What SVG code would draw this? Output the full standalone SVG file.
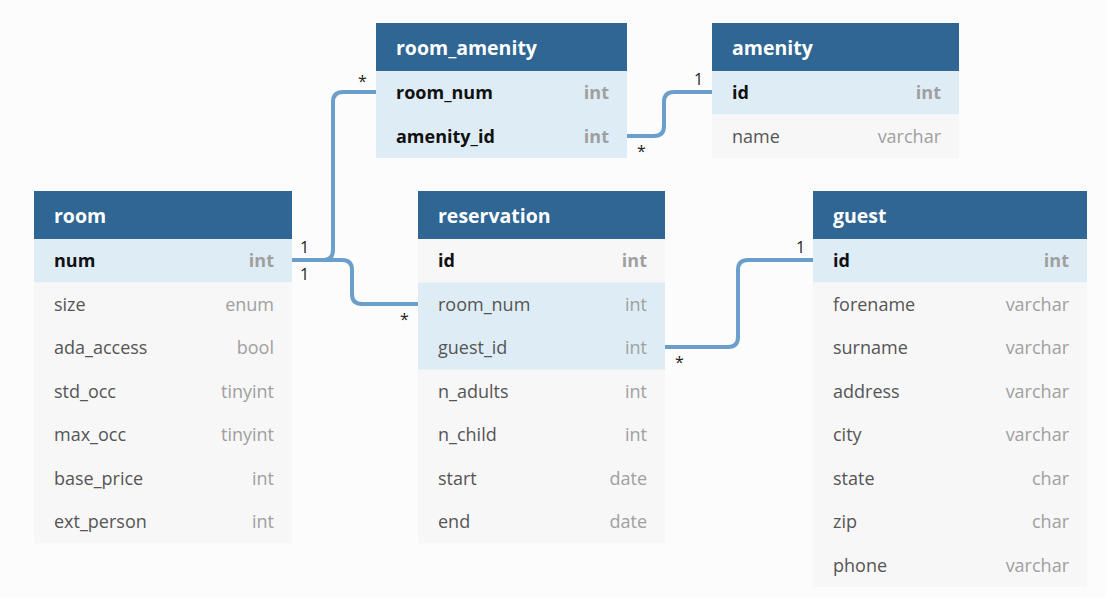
<svg xmlns="http://www.w3.org/2000/svg" width="1106" height="598" viewBox="0 0 1106 598">
<style>
.hd{fill:#2f6693}
.hl{fill:#deedf5}
.gr{fill:#f7f7f7}
.ht{font-family:"Open Sans","DejaVu Sans",sans-serif;font-size:19.5px;font-weight:bold;fill:#ffffff}
.fn{font-family:"Open Sans","DejaVu Sans",sans-serif;font-size:18px;fill:#555555}
.ft{font-family:"Open Sans","DejaVu Sans",sans-serif;font-size:18px;fill:#a0a0a0;text-anchor:end}
.k{font-weight:bold;fill:#111111}
.kt{font-weight:bold;fill:#a0a0a0}
.ln{fill:none;stroke:#6a9fcb;stroke-width:4}
.lb{font-family:"Open Sans","DejaVu Sans",sans-serif;font-size:16px;fill:#222222}
</style>
<rect width="1106" height="598" fill="#fcfcfc"/>
<g id="connectors">
<path class="ln" d="M292,260 H323 Q333,260 333,250 V102 Q333,92 343,92 H376"/>
<path class="ln" d="M292,260 H342 Q352,260 352,270 V294 Q352,304 362,304 H418"/>
<path class="ln" d="M627,136 H654 Q664,136 664,126 V102 Q664,92 674,92 H712"/>
<path class="ln" d="M665,347 H728 Q738,347 738,337 V270 Q738,260 748,260 H813"/>
<text class="lb" x="300" y="253">1</text>
<text class="lb" x="300" y="280">1</text>
<text class="lb" x="358" y="87">*</text>
<text class="lb" x="400" y="325">*</text>
<text class="lb" x="637" y="157">*</text>
<text class="lb" x="694" y="85">1</text>
<text class="lb" x="675" y="368">*</text>
<text class="lb" x="796" y="253">1</text>
</g>
<g id="room">
<rect class="hd" x="34" y="191" width="258" height="48"/>
<rect class="hl" x="34" y="239" width="258" height="43.5"/>
<rect class="gr" x="34" y="282.5" width="258" height="261"/>
<text class="ht" x="54" y="223">room</text>
<text class="fn k" x="54" y="267">num</text><text class="ft kt" x="274" y="267">int</text>
<text class="fn" x="54" y="311">size</text><text class="ft" x="274" y="311">enum</text>
<text class="fn" x="54" y="354">ada_access</text><text class="ft" x="274" y="354">bool</text>
<text class="fn" x="54" y="398">std_occ</text><text class="ft" x="274" y="398">tinyint</text>
<text class="fn" x="54" y="441">max_occ</text><text class="ft" x="274" y="441">tinyint</text>
<text class="fn" x="54" y="485">base_price</text><text class="ft" x="274" y="485">int</text>
<text class="fn" x="54" y="528">ext_person</text><text class="ft" x="274" y="528">int</text>
</g>
<g id="room_amenity">
<rect class="hd" x="376" y="23" width="251" height="48"/>
<rect class="hl" x="376" y="71" width="251" height="87"/>
<text class="ht" x="396" y="55">room_amenity</text>
<text class="fn k" x="396" y="99">room_num</text><text class="ft kt" x="609" y="99">int</text>
<text class="fn k" x="396" y="143">amenity_id</text><text class="ft kt" x="609" y="143">int</text>
</g>
<g id="amenity">
<rect class="hd" x="712" y="23" width="247" height="48"/>
<rect class="hl" x="712" y="71" width="247" height="43.5"/>
<rect class="gr" x="712" y="114.5" width="247" height="43.5"/>
<text class="ht" x="732" y="55">amenity</text>
<text class="fn k" x="732" y="99">id</text><text class="ft kt" x="941" y="99">int</text>
<text class="fn" x="732" y="143">name</text><text class="ft" x="941" y="143">varchar</text>
</g>
<g id="reservation">
<rect class="hd" x="418" y="191" width="247" height="48"/>
<rect class="gr" x="418" y="239" width="247" height="304.5"/>
<rect class="hl" x="418" y="282.5" width="247" height="87"/>
<text class="ht" x="438" y="223">reservation</text>
<text class="fn k" x="438" y="267">id</text><text class="ft kt" x="647" y="267">int</text>
<text class="fn" x="438" y="311">room_num</text><text class="ft" x="647" y="311">int</text>
<text class="fn" x="438" y="354">guest_id</text><text class="ft" x="647" y="354">int</text>
<text class="fn" x="438" y="398">n_adults</text><text class="ft" x="647" y="398">int</text>
<text class="fn" x="438" y="441">n_child</text><text class="ft" x="647" y="441">int</text>
<text class="fn" x="438" y="485">start</text><text class="ft" x="647" y="485">date</text>
<text class="fn" x="438" y="528">end</text><text class="ft" x="647" y="528">date</text>
</g>
<g id="guest">
<rect class="hd" x="813" y="191" width="274" height="48"/>
<rect class="hl" x="813" y="239" width="274" height="43.5"/>
<rect class="gr" x="813" y="282.5" width="274" height="304.5"/>
<text class="ht" x="833" y="223">guest</text>
<text class="fn k" x="833" y="267">id</text><text class="ft kt" x="1069" y="267">int</text>
<text class="fn" x="833" y="311">forename</text><text class="ft" x="1069" y="311">varchar</text>
<text class="fn" x="833" y="354">surname</text><text class="ft" x="1069" y="354">varchar</text>
<text class="fn" x="833" y="398">address</text><text class="ft" x="1069" y="398">varchar</text>
<text class="fn" x="833" y="441">city</text><text class="ft" x="1069" y="441">varchar</text>
<text class="fn" x="833" y="485">state</text><text class="ft" x="1069" y="485">char</text>
<text class="fn" x="833" y="528">zip</text><text class="ft" x="1069" y="528">char</text>
<text class="fn" x="833" y="572">phone</text><text class="ft" x="1069" y="572">varchar</text>
</g>
</svg>
